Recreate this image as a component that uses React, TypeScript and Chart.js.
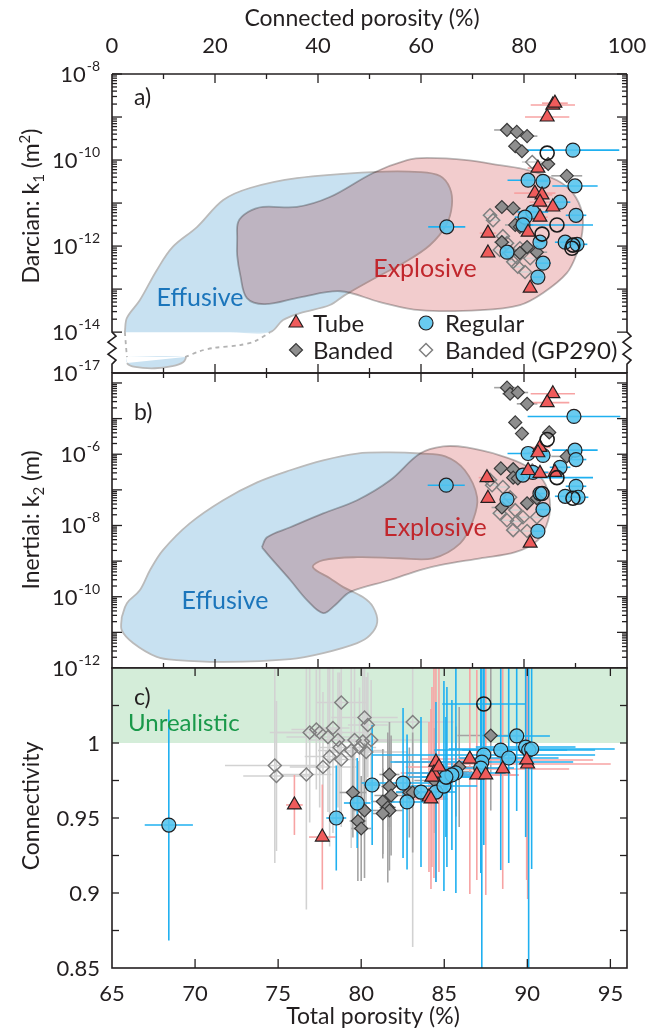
import React, { useEffect, useRef } from 'react';
import { Chart, registerables } from 'chart.js';

// Blend plugin must be registered before the Filler so that the fill is drawn in 'multiply' mode
const blendPlugin: any = {
  id: 'regionBlend',
  beforeDatasetDraw(chart: any, args: any) {
    const ds: any = chart.data.datasets[args.index];
    if (ds && ds.blend) {
      chart.ctx.save();
      chart.ctx.globalCompositeOperation = ds.blend;
    }
  },
  afterDatasetDraw(chart: any, args: any) {
    const ds: any = chart.data.datasets[args.index];
    if (ds && ds.blend) chart.ctx.restore();
  },
};
Chart.register(blendPlugin);
Chart.register(...registerables);

// ---------------- DATA ----------------
// Panel a: connected porosity (%) vs Darcian permeability k1 (m^2)
const tubeA_x = [85.6, 86.0, 84.5, 82.7, 82.1, 83.5, 83.1, 83.1, 85.6, 73.0, 73.0, 81.2, 80.8];
const tubeA_k = [1.9e-9, 2.1e-9, 1.0e-9, 6.5e-11, 1.7e-11, 1.55e-11, 1.05e-11, 4.7e-12, 8.1e-12, 2.0e-12, 6.9e-13, 1.05e-13, 2.1e-12];
const tubeA_xerr = [4.3, 2.5, 4.3, 2.0, 4.0, 2.0, 2.0, 1.5, 2.0, 1.6, 1.0, 1.0, 1.0];

const bandA_x = [76.7, 78.6, 80.6, 78.3, 79.6, 84.7, 88.3, 75.7, 77.9, 78.3, 79.2, 75.7, 82.5, 80.6, 79.2];
const bandA_k = [5.0e-10, 4.5e-10, 3.6e-10, 2.1e-10, 1.6e-10, 8.1e-11, 4.3e-11, 8.1e-12, 7.5e-12, 3.1e-12, 2.8e-12, 1.23e-12, 7.2e-13, 9.5e-13, 6.9e-13];
const bandA_xerr = [2.5, 1.5, 2.0, 1.0, 1.0, 1.0, 3.0, 1.0, 1.5, 2.0, 1.0, 1.5, 2.0, 1.0, 1.0];

const gpA_x = [81.6, 73.4, 74.0, 75.3, 77.3, 77.9, 78.8, 80.2, 76.7, 79.2, 81.2, 78.6, 75.9];
const gpA_k = [9e-11, 5.2e-12, 4e-12, 8.1e-13, 6.9e-13, 4.3e-13, 3.3e-13, 2.5e-13, 1.17e-12, 8.9e-13, 5.2e-13, 5.5e-13, 1.7e-12];
const gpA_xerr = [2.0, 1.5, 1.5, 1.0, 1.0, 1.0, 1.5, 1.0, 1.5, 1.0, 1.0, 1.0, 1.0];

const regA_x = [89.5, 80.8, 83.7, 89.9, 87.0, 81.7, 80.2, 79.8, 90.1, 65.0, 83.1, 88.0, 90.3, 76.7, 83.7, 82.7];
const regA_k = [1.7e-10, 3.4e-11, 3.2e-11, 2.5e-11, 1.05e-11, 6.2e-12, 4.7e-12, 3.1e-12, 5.2e-12, 2.8e-12, 1.23e-12, 1.23e-12, 1.1e-12, 7.2e-13, 4.0e-13, 1.9e-13];
const regA_xerr = [9.0, 4.0, 1.0, 4.4, 2.0, 3.0, 2.0, 2.0, 2.0, 3.6, 1.0, 2.0, 2.0, 1.0, 1.5, 1.0];

const holA_x = [84.5, 86.4, 83.5, 89.5, 89.3];
const holA_k = [1.45e-10, 3.1e-12, 1.9e-12, 1.05e-12, 8.9e-13];
const holA_xerr = [0, 7.0, 0, 0, 0];

// Panel a fields: [connected porosity %, log10 k1]
const effusiveA = [[2.5, -14.0], [2.9, -13.67], [5.4, -13.26], [8.7, -12.56], [11.8, -12.02], [16.5, -11.56], [21.6, -10.93], [26.8, -10.65], [35.9, -10.42], [50.7, -10.28], [59.8, -10.28], [63.7, -10.37], [65.6, -10.65], [66.0, -11.05], [64.9, -11.51], [61.7, -11.98], [56.9, -12.37], [51.1, -12.74], [45.2, -13.14], [42.3, -13.37], [36.5, -13.56], [33.2, -13.72], [30.7, -14.0], [22.9, -14.0], [13.2, -14.0], [5.4, -14.0], [2.5, -14.0]];
const effusiveA_open = [22, 23, 24, 25];
const effusiveA_low = [[2.9, -14.58], [14.2, -14.58], [13.8, -14.70], [11.7, -14.79], [8.3, -14.84], [4.5, -14.81], [2.9, -14.72], [2.9, -14.58]];
const effusiveA_low_open = [0, 6];
const dashA_left = [[2.5, -14.0], [2.7, -14.3], [2.9, -14.58]];
const dashA_right = [[14.2, -14.58], [17.1, -14.44], [19.6, -14.37], [24.9, -14.30], [27.8, -14.21], [30.7, -14.0]];
const explosiveA = [[24.3, -11.86], [24.5, -11.44], [26.4, -11.21], [29.3, -11.09], [35.9, -11.09], [42.3, -10.86], [50.7, -10.30], [57.3, -10.0], [61.2, -9.95], [68.9, -10.0], [75.3, -10.12], [80.6, -10.23], [86.4, -10.47], [89.5, -10.77], [91.3, -11.23], [91.3, -11.70], [90.3, -12.16], [88.3, -12.63], [83.7, -13.09], [79.2, -13.37], [71.5, -13.49], [59.8, -13.49], [52.0, -13.30], [44.3, -13.05], [36.5, -13.19], [29.7, -13.35], [26.2, -13.21], [24.9, -12.67], [24.3, -12.21], [24.3, -11.86]];

// Panel b: connected porosity (%) vs inertial permeability k2 (m)
const tubeB_x = [85.6, 84.5, 83.1, 82.7, 72.8, 73.0, 83.1, 86.0, 81.2, 80.8];
const tubeB_k = [5.0e-5, 2.8e-5, 1.55e-6, 1.1e-6, 2.2e-7, 5.8e-8, 2.9e-7, 3.1e-7, 3.2e-9, 3.5e-7];
const tubeB_xerr = [4.3, 4.3, 2.0, 2.0, 1.6, 1.0, 2.0, 2.0, 1.0, 1.0];

const bandB_x = [76.7, 77.3, 78.8, 80.6, 78.3, 79.6, 84.9, 88.3, 75.5, 77.9, 77.9, 78.8, 75.7, 80.6, 82.5];
const bandB_k = [7.4e-5, 5.0e-5, 5.4e-5, 2.6e-5, 7.8e-6, 3.8e-6, 4.1e-6, 8.7e-7, 4.0e-7, 3.8e-7, 2.2e-7, 2.1e-7, 3.2e-8, 4.2e-8, 5.8e-8];
const bandB_xerr = [2.5, 1.5, 2.0, 2.0, 1.0, 1.0, 1.0, 3.0, 1.0, 1.5, 1.0, 1.0, 2.0, 1.0, 1.0];

const gpB_x = [73.4, 73.8, 75.9, 77.3, 78.3, 75.3, 76.7, 78.6, 79.8, 77.9, 80.6, 82.5, 81.6];
const gpB_k = [1.9e-7, 1.35e-7, 1.2e-7, 6.2e-8, 2.7e-8, 2.2e-8, 1.4e-8, 1.3e-8, 1.7e-8, 7.4e-9, 7.0e-9, 1.7e-8, 3.5e-7];
const gpB_xerr = [1.5, 1.0, 1.0, 1.0, 1.0, 1.5, 1.0, 1.0, 1.0, 1.0, 1.0, 1.0, 2.0];

const regB_x = [89.7, 80.8, 83.7, 89.9, 90.1, 87.0, 81.7, 79.8, 90.1, 64.9, 83.1, 88.0, 76.7, 83.7, 82.7, 90.5];
const regB_k = [1.15e-5, 1.05e-6, 9.3e-7, 1.3e-6, 7.1e-7, 4.3e-7, 3.1e-7, 2.6e-7, 1.26e-7, 1.35e-7, 7.9e-8, 6.6e-8, 5.4e-8, 2.8e-8, 6.9e-9, 6.2e-8];
const regB_xerr = [9.0, 4.0, 1.0, 4.4, 2.0, 2.0, 3.0, 2.0, 2.0, 3.6, 1.0, 2.0, 1.0, 1.5, 1.0, 2.0];

const holB_x = [84.5, 86.4, 83.5, 89.5];
const holB_k = [2.6e-6, 2.2e-7, 7.9e-8, 5.8e-8];
const holB_xerr = [0, 7.0, 0, 0];

// Panel b fields: [connected porosity %, log10 k2]
const effusiveB = [[1.9, -10.57], [2.9, -10.18], [5.4, -9.82], [7.4, -9.25], [9.9, -8.69], [15.1, -7.94], [21.6, -7.29], [28.2, -6.79], [34.6, -6.45], [41.0, -6.17], [47.6, -5.98], [54.0, -5.95], [59.8, -5.98], [64.7, -6.06], [68.5, -6.45], [70.9, -7.21], [70.1, -7.85], [67.6, -8.50], [62.3, -8.92], [55.9, -8.92], [47.6, -8.89], [41.0, -8.97], [39.0, -9.17], [42.3, -9.48], [44.9, -9.73], [48.7, -10.01], [50.7, -10.29], [51.5, -10.71], [50.1, -11.08], [47.6, -11.30], [41.0, -11.58], [34.6, -11.75], [21.6, -11.83], [12.6, -11.78], [8.7, -11.69], [4.1, -11.30], [1.9, -10.94], [1.9, -10.57]];
const explosiveB = [[29.1, -8.61], [30.1, -8.33], [34.6, -8.05], [41.0, -7.66], [47.6, -7.29], [54.0, -6.73], [59.8, -5.98], [64.3, -5.78], [68.9, -5.81], [75.3, -6.03], [80.2, -6.31], [83.7, -6.73], [85.0, -7.29], [84.7, -7.85], [82.7, -8.41], [78.3, -8.75], [71.5, -8.92], [63.7, -9.11], [59.8, -9.25], [54.0, -9.53], [46.2, -9.87], [43.3, -10.24], [41.0, -10.46], [37.9, -10.10], [34.6, -9.53], [30.7, -8.89], [29.1, -8.61]];

// Panel c: total porosity (%) vs connectivity
const tubeC_x = [75.98, 77.66, 84.08, 84.2, 84.5, 84.38, 84.26, 86.54, 86.96, 87.5, 88.52, 90.02, 89.96, 84.68];
const tubeC_y = [0.9587, 0.9373, 0.964, 0.9627, 0.9873, 0.98, 0.9773, 0.9893, 0.9787, 0.9787, 0.9827, 0.986, 0.9887, 0.984];
const tubeC_xerr = [0.5, 0.8, 1.0, 1.0, 2.5, 2.0, 1.5, 3.0, 2.5, 2.0, 4.0, 5.0, 4.0, 2.0];
const tubeC_yerr = [0.02, 0.035, 0.05, 0.06, 0.08, 0.07, 0.06, 0.09, 0.07, 0.08, 0.08, 0.09, 0.08, 0.07];

const regC_x = [68.42, 78.5, 79.76, 80.66, 82.52, 82.76, 83.6, 84.5, 84.98, 85.16, 85.7, 87.38, 87.26, 87.2, 88.4, 88.88, 89.36, 89.9, 90.08, 90.26, 85.46, 85.1];
const regC_y = [0.9453, 0.95, 0.96, 0.972, 0.9733, 0.9607, 0.9673, 0.9673, 0.9713, 0.9773, 0.98, 0.992, 0.9873, 0.9833, 0.9953, 0.99, 1.0047, 0.9973, 0.9953, 0.996, 0.9787, 0.9773];
const regC_xerr = [1.45, 0.6, 0.8, 0.5, 2.5, 1.0, 1.5, 1.2, 2.0, 2.5, 3.0, 6.7, 5.5, 2.0, 4.0, 3.0, 2.0, 3.0, 4.0, 5.0, 1.5, 1.5];
const regC_yerr = [0.077, 0.035, 0.03, 0.04, 0.05, 0.045, 0.05, 0.06, 0.07, 0.06, 0.08, 0.06, 0.14, 0.07, 0.08, 0.07, 0.05, 0.06, 0.15, 0.08, 0.05, 0.04];

const bandC_x = [79.5, 81.7, 81.7, 81.8, 81.3, 81.6, 81.7, 81.3, 80.2, 79.8, 80.0, 82.9, 83.1, 84.4, 85.9, 85.7, 87.8];
const bandC_y = [0.967, 0.979, 0.971, 0.965, 0.961, 0.957, 0.955, 0.953, 0.955, 0.948, 0.943, 0.967, 0.967, 0.975, 0.984, 0.981, 1.005];
const bandC_xerr = [0.8, 0.6, 0.5, 1.0, 0.7, 0.5, 0.8, 0.6, 0.7, 0.5, 0.6, 0.8, 1.0, 1.2, 1.5, 1.0, 2.0];
const bandC_yerr = [0.03, 0.035, 0.03, 0.04, 0.035, 0.05, 0.04, 0.03, 0.045, 0.04, 0.035, 0.03, 0.04, 0.035, 0.04, 0.03, 0.05];

const gpC_x = [78.8, 80.2, 80.4, 83.1, 76.9, 77.3, 77.5, 78.3, 78.0, 78.6, 79.6, 80.1, 80.6, 78.7, 79.4, 79.9, 80.3, 78.1, 78.8, 77.7, 76.7, 74.8, 74.9];
const gpC_y = [1.027, 1.017, 1.012, 1.014, 1.007, 1.009, 1.007, 1.010, 1.004, 1.002, 1.002, 1.001, 1.002, 0.997, 0.995, 0.997, 0.994, 0.991, 0.989, 0.984, 0.979, 0.985, 0.978];
const gpC_xerr = [1.5, 2.0, 1.2, 2.5, 2.0, 1.5, 3.0, 1.0, 2.5, 1.8, 2.2, 1.5, 3.0, 1.2, 2.0, 1.0, 2.5, 1.5, 1.0, 2.0, 1.5, 3.0, 2.0];
const gpC_yerr = [0.04, 0.05, 0.035, 0.15, 0.06, 0.04, 0.05, 0.07, 0.05, 0.045, 0.06, 0.055, 0.04, 0.05, 0.065, 0.04, 0.05, 0.06, 0.045, 0.05, 0.09, 0.065, 0.05];

const holC_x = [87.38];
const holC_y = [1.026];
const holC_xerr = [2.5];
const holC_yerr = [0.03];

// Axes / ticks
const connMajor = [0, 20, 40, 60, 80, 100];
const connMinor = [10, 30, 50, 70, 90];
const totTicks = [65, 70, 75, 80, 85, 90, 95];
const aExpLabels = [-8, -10, -12, -14];
const bExpLabels = [-6, -8, -10, -12];
const cYLabels = [0.85, 0.9, 0.95, 1];
const cYTicks = [0.875, 0.9, 0.925, 0.95, 0.975, 1.0, 1.025];

// ---------------- STYLE ----------------
const FONT = 'Lato, "Open Sans", "DejaVu Sans", sans-serif';
const AX = '#231f20';
const W = 659, H = 1032;
const TUBE = { ps: 'triangle', r: 8, bg: '#ef5b5b', bd: '#231f20', bw: 1.2, err: '#f7a3a3', order: 3, errOrder: 3 };
const REG = { ps: 'circle', r: 7, bg: 'rgba(84,196,238,0.88)', bd: '#231f20', bw: 1.2, err: '#1fb0f0', order: 4, errOrder: 4 };
const BAND = { ps: 'rectRot', r: 6.5, bg: '#8e8e8e', bd: '#3a3a3a', bw: 1.2, err: '#a3a3a3', order: 5, errOrder: 2 };
const GP = { ps: 'rectRot', r: 6.5, bg: 'rgba(255,255,255,0)', bd: '#7f7f7f', bw: 1.5, err: '#d2d2d2', order: 6, errOrder: 1 };
const HOL = { ps: 'circle', r: 7, bg: 'rgba(255,255,255,0)', bd: '#1a1a1a', bw: 1.6, err: '#1fb0f0', order: 2, errOrder: 5 };
const BLUE_FILL = '#c8e1f1';
const RED_FILL = '#f2cccd';
const EDGE = '#bababa';

// ---------------- HELPERS ----------------
const fnt = (s: number) => `${s}px ${FONT}`;
function seg(ctx: any, x1: number, y1: number, x2: number, y2: number) {
  ctx.beginPath(); ctx.moveTo(x1, y1); ctx.lineTo(x2, y2); ctx.stroke();
}
function txt(ctx: any, s: string, x: number, cy: number, size: number, color = AX, align = 'left') {
  ctx.font = fnt(size); ctx.fillStyle = color; ctx.textAlign = align; ctx.textBaseline = 'alphabetic';
  ctx.fillText(s, x, cy + size * 0.36);
}
function pow10(ctx: any, exp: string, xRight: number, cy: number) {
  ctx.font = fnt(22); const w1 = ctx.measureText('10').width;
  ctx.font = fnt(14); const w2 = ctx.measureText(exp).width;
  const x0 = xRight - w1 - w2 - 1;
  txt(ctx, '10', x0, cy, 22, AX, 'left');
  ctx.font = fnt(14); ctx.fillStyle = AX; ctx.textAlign = 'left';
  ctx.fillText(exp, x0 + w1 + 1, cy - 3);
}
function rich(ctx: any, parts: any[], cx: number, cy: number) {
  ctx.save(); ctx.translate(cx, cy); ctx.rotate(-Math.PI / 2);
  let total = 0;
  parts.forEach((p) => { ctx.font = fnt(p.s); total += ctx.measureText(p.t).width; });
  let x = -total / 2;
  ctx.fillStyle = AX; ctx.textAlign = 'left'; ctx.textBaseline = 'alphabetic';
  parts.forEach((p) => { ctx.font = fnt(p.s); ctx.fillText(p.t, x, 8.5 + (p.dy || 0)); x += ctx.measureText(p.t).width; });
  ctx.restore();
}
function logTicks(ctx: any, ys: any, left: number, right: number, e0: number, e1: number, maxExp: number, yLimit: number, top: number) {
  for (let e = e0; e <= e1; e++) {
    for (let m = 1; m <= 9; m++) {
      const v = m * Math.pow(10, e);
      if (Math.log10(v) > maxExp + 1e-9) break;
      const py = ys.getPixelForValue(v);
      if (py > yLimit + 0.5 || py < top - 0.5) continue;
      const len = m === 1 ? 10 : 5;
      seg(ctx, left, py, left + len, py); seg(ctx, right - len, py, right, py);
    }
  }
}
function connTicks(ctx: any, xs: any, top: number, bottom: number, doTop: boolean, doBottom: boolean) {
  connMajor.concat(connMinor).forEach((v) => {
    if (v <= 0 || v >= 100) return;
    const px = xs.getPixelForValue(v);
    const len = connMajor.indexOf(v) >= 0 ? 9 : 5;
    if (doTop) seg(ctx, px, top, px, top + len);
    if (doBottom) seg(ctx, px, bottom, px, bottom - len);
  });
}
function drawMarker(ctx: any, st: any, x: number, y: number) {
  ctx.save(); ctx.beginPath();
  const r = st.r;
  if (st.ps === 'triangle') {
    ctx.moveTo(x, y - r); ctx.lineTo(x + r * Math.sin(2 * Math.PI / 3), y + r * 0.5); ctx.lineTo(x - r * Math.sin(2 * Math.PI / 3), y + r * 0.5); ctx.closePath();
  } else if (st.ps === 'circle') {
    ctx.arc(x, y, r, 0, Math.PI * 2);
  } else {
    ctx.moveTo(x - r, y); ctx.lineTo(x, y - r); ctx.lineTo(x + r, y); ctx.lineTo(x, y + r); ctx.closePath();
  }
  ctx.fillStyle = st.bg; ctx.fill(); ctx.lineWidth = st.bw; ctx.strokeStyle = st.bd; ctx.stroke();
  ctx.restore();
}

const toPts = (xs: number[], ys: number[]) => xs.map((x, i) => ({ x, y: ys[i] }));
const expPts = (arr: number[][]) => arr.map(([x, e]) => ({ x, y: Math.pow(10, e) }));

function regionDs(data: any[], fill: string, order: number, open: number[] = [], blend: any = null) {
  return {
    type: 'line', data, showLine: true, fill: 'shape', backgroundColor: fill, borderColor: EDGE, borderWidth: 1.8,
    pointRadius: 0, pointHoverRadius: 0, tension: 0.35, order, blend,
    segment: { borderColor: (c: any) => (open.indexOf(c.p0DataIndex) >= 0 ? 'rgba(0,0,0,0)' : undefined) },
  };
}
function dashDs(data: any[]) {
  return {
    type: 'line', data, showLine: true, fill: false, borderColor: '#b3b3b3', borderWidth: 1.8, borderDash: [4, 4],
    pointRadius: 0, tension: 0.3, order: 99,
  };
}
function markerDs(xs: number[], ys: number[], st: any, xErr?: number[], yErr?: number[]) {
  return {
    type: 'scatter', data: toPts(xs, ys), marker: true, xErr, yErr, errColor: st.err, errOrder: st.errOrder,
    pointStyle: st.ps, pointRadius: st.r, pointHoverRadius: st.r, backgroundColor: st.bg, borderColor: st.bd,
    pointBackgroundColor: st.bg, pointBorderColor: st.bd, pointBorderWidth: st.bw, order: st.order, showLine: false,
  };
}

const errPlugin: any = {
  id: 'errBars',
  beforeDraw(chart: any) { chart.$errDone = false; },
  beforeDatasetDraw(chart: any, args: any) {
    const ds: any = chart.data.datasets[args.index];
    if (chart.$errDone || !ds.marker) return;
    chart.$errDone = true;
    const ctx = chart.ctx; const { left, right, top, bottom } = chart.chartArea;
    const xs = chart.scales.x, ys = chart.scales.y;
    ctx.save(); ctx.beginPath(); ctx.rect(left, top, right - left, bottom - top); ctx.clip();
    ctx.lineWidth = 1.6;
    const list = chart.data.datasets.filter((d: any) => d.marker).sort((a: any, b: any) => a.errOrder - b.errOrder);
    list.forEach((d: any) => {
      ctx.strokeStyle = d.errColor;
      d.data.forEach((p: any, i: number) => {
        const px = xs.getPixelForValue(p.x), py = ys.getPixelForValue(p.y);
        const xe = d.xErr ? d.xErr[i] : 0;
        if (xe) seg(ctx, xs.getPixelForValue(p.x - xe), py, xs.getPixelForValue(p.x + xe), py);
        const ye = d.yErr ? d.yErr[i] : 0;
        if (ye) seg(ctx, px, ys.getPixelForValue(p.y - ye), px, ys.getPixelForValue(p.y + ye));
      });
    });
    ctx.restore();
  },
};

function baseConfig(datasets: any[], padding: any, scales: any, deco: any) {
  return {
    type: 'scatter',
    data: { datasets },
    options: {
      responsive: false, animation: false, events: [],
      layout: { padding },
      scales,
      plugins: { legend: { display: false }, tooltip: { enabled: false } },
    },
    plugins: [errPlugin, deco],
  } as any;
}

// ---------------- PANEL A ----------------
const decoA: any = {
  id: 'decoA',
  afterDraw(chart: any) {
    const ctx = chart.ctx; const { left, right, top, bottom } = chart.chartArea;
    const xs = chart.scales.x, ys = chart.scales.y;
    const yb = ys.getPixelForValue(1e-14);
    ctx.save();
    ctx.strokeStyle = AX; ctx.lineWidth = 1.6;
    seg(ctx, left, top, right, top); seg(ctx, left, bottom, right, bottom);
    [left, right].forEach((x) => {
      ctx.beginPath(); ctx.moveTo(x, top); ctx.lineTo(x, yb);
      [[4, 4], [-4, 10], [4, 16], [-4, 22], [4, 28], [0, 32]].forEach(([dx, dy]) => ctx.lineTo(x + dx, yb + dy));
      ctx.lineTo(x, bottom); ctx.stroke();
    });
    ctx.lineWidth = 1.3;
    connTicks(ctx, xs, top, bottom, true, true);
    logTicks(ctx, ys, left, right, -14, -8, -8, yb, top);
    aExpLabels.forEach((e) => pow10(ctx, String(e), left - 12, ys.getPixelForValue(Math.pow(10, e))));
    pow10(ctx, '-17', left - 12, bottom);
    connMajor.forEach((v) => txt(ctx, String(v), xs.getPixelForValue(v), 45, 22, AX, 'center'));
    txt(ctx, 'Connected porosity (%)', 362, 18, 23, AX, 'center');
    rich(ctx, [{ t: 'Darcian: k', s: 23 }, { t: '1', s: 15, dy: 5 }, { t: ' (m', s: 23 }, { t: '2', s: 15, dy: -9 }, { t: ')', s: 23 }], 30, 206);
    txt(ctx, 'a)', 134, 97, 23);
    txt(ctx, 'Effusive', 200, 297, 25, '#1b75bb', 'center');
    txt(ctx, 'Explosive', 425, 268, 25, '#c1272d', 'center');
    // legend
    drawMarker(ctx, TUBE, 296, 323); txt(ctx, 'Tube', 313, 323, 24);
    drawMarker(ctx, REG, 426, 323); txt(ctx, 'Regular', 445, 323, 24);
    drawMarker(ctx, BAND, 296, 350); txt(ctx, 'Banded', 313, 350, 24);
    drawMarker(ctx, { ...GP, bg: '#ffffff' }, 426, 350); txt(ctx, 'Banded (GP290)', 445, 350, 24);
    ctx.restore();
  },
};

function buildA(canvas: any) {
  const datasets = [
    regionDs(expPts(effusiveA), BLUE_FILL, 102, effusiveA_open),
    regionDs(expPts(effusiveA_low), BLUE_FILL, 102, effusiveA_low_open),
    dashDs(expPts(dashA_left)),
    dashDs(expPts(dashA_right)),
    regionDs(expPts(explosiveA), RED_FILL, 101, [], 'multiply'),
    markerDs(gpA_x, gpA_k, GP, gpA_xerr),
    markerDs(bandA_x, bandA_k, BAND, bandA_xerr),
    markerDs(regA_x, regA_k, REG, regA_xerr),
    markerDs(tubeA_x, tubeA_k, TUBE, tubeA_xerr),
    markerDs(holA_x, holA_k, HOL, holA_xerr),
  ];
  const scales = {
    x: { type: 'linear', min: 0, max: 100, display: false },
    y: { type: 'logarithmic', min: Math.pow(10, -14.95), max: 1e-8, display: false },
  };
  return new Chart(canvas, baseConfig(datasets, { left: 112, right: 32, top: 74, bottom: H - 373 }, scales, decoA));
}

// ---------------- PANEL B ----------------
const B_MAX_EXP = -3.72;
const decoB: any = {
  id: 'decoB',
  afterDraw(chart: any) {
    const ctx = chart.ctx; const { left, right, top, bottom } = chart.chartArea;
    const xs = chart.scales.x, ys = chart.scales.y;
    ctx.save();
    ctx.strokeStyle = AX; ctx.lineWidth = 1.6;
    ctx.strokeRect(left, top, right - left, bottom - top);
    ctx.lineWidth = 1.3;
    connTicks(ctx, xs, top, bottom, true, true);
    logTicks(ctx, ys, left, right, -12, -4, B_MAX_EXP, bottom, top);
    bExpLabels.forEach((e) => pow10(ctx, String(e), left - 12, ys.getPixelForValue(Math.pow(10, e))));
    rich(ctx, [{ t: 'Inertial: k', s: 23 }, { t: '2', s: 15, dy: 5 }, { t: ' (m)', s: 23 }], 30, 520);
    txt(ctx, 'b)', 134, 412, 23);
    txt(ctx, 'Effusive', 225, 600, 25, '#1b75bb', 'center');
    txt(ctx, 'Explosive', 435, 527, 25, '#c1272d', 'center');
    ctx.restore();
  },
};

function buildB(canvas: any) {
  const datasets = [
    regionDs(expPts(effusiveB), BLUE_FILL, 102),
    regionDs(expPts(explosiveB), RED_FILL, 101, [], 'multiply'),
    markerDs(gpB_x, gpB_k, GP, gpB_xerr),
    markerDs(bandB_x, bandB_k, BAND, bandB_xerr),
    markerDs(regB_x, regB_k, REG, regB_xerr),
    markerDs(tubeB_x, tubeB_k, TUBE, tubeB_xerr),
    markerDs(holB_x, holB_k, HOL, holB_xerr),
  ];
  const scales = {
    x: { type: 'linear', min: 0, max: 100, display: false },
    y: { type: 'logarithmic', min: 1e-12, max: Math.pow(10, B_MAX_EXP), display: false },
  };
  return new Chart(canvas, baseConfig(datasets, { left: 112, right: 32, top: 373, bottom: H - 668 }, scales, decoB));
}

// ---------------- PANEL C ----------------
const decoC: any = {
  id: 'decoC',
  afterDraw(chart: any) {
    const ctx = chart.ctx; const { left, right, top, bottom } = chart.chartArea;
    const xs = chart.scales.x, ys = chart.scales.y;
    ctx.save();
    ctx.strokeStyle = AX; ctx.lineWidth = 1.6;
    ctx.strokeRect(left, top, right - left, bottom - top);
    ctx.lineWidth = 1.3;
    totTicks.forEach((v) => {
      const px = xs.getPixelForValue(v);
      if (px <= left + 1 || px >= right - 1) return;
      seg(ctx, px, top, px, top + 8); seg(ctx, px, bottom, px, bottom - 9);
    });
    cYTicks.forEach((v) => {
      const py = ys.getPixelForValue(v);
      seg(ctx, left, py, left + 7, py); seg(ctx, right - 7, py, right, py);
    });
    cYLabels.forEach((v) => txt(ctx, String(v), left - 12, ys.getPixelForValue(v), 22, AX, 'right'));
    totTicks.forEach((v) => txt(ctx, String(v), xs.getPixelForValue(v), bottom + 25, 22, AX, 'center'));
    txt(ctx, 'Total porosity (%)', 373, 1016, 23, AX, 'center');
    rich(ctx, [{ t: 'Connectivity', s: 23 }], 30, 806);
    txt(ctx, 'c)', 134, 697, 23);
    txt(ctx, 'Unrealistic', 128, 722, 24, '#19994a');
    ctx.restore();
  },
};

function buildC(canvas: any) {
  const datasets = [
    { type: 'line', data: [{ x: 65, y: 1 }, { x: 96, y: 1 }], fill: 'end', backgroundColor: '#d4edd9', borderColor: 'rgba(0,0,0,0)', borderWidth: 0, pointRadius: 0, order: 100 },
    markerDs(gpC_x, gpC_y, GP, gpC_xerr, gpC_yerr),
    markerDs(bandC_x, bandC_y, BAND, bandC_xerr, bandC_yerr),
    markerDs(regC_x, regC_y, REG, regC_xerr, regC_yerr),
    markerDs(tubeC_x, tubeC_y, TUBE, tubeC_xerr, tubeC_yerr),
    markerDs(holC_x, holC_y, HOL, holC_xerr, holC_yerr),
  ];
  const scales = {
    x: { type: 'linear', min: 65, max: 96, display: false },
    y: { type: 'linear', min: 0.85, max: 1.05, display: false },
  };
  return new Chart(canvas, baseConfig(datasets, { left: 112, right: 32, top: 668, bottom: H - 968 }, scales, decoC));
}

export default function App() {
  const refA = useRef<HTMLCanvasElement>(null);
  const refB = useRef<HTMLCanvasElement>(null);
  const refC = useRef<HTMLCanvasElement>(null);
  useEffect(() => {
    const charts = [buildA(refA.current), buildB(refB.current), buildC(refC.current)];
    return () => charts.forEach((c) => c.destroy());
  }, []);
  const st: any = { position: 'absolute', left: 0, top: 0, width: W, height: H };
  return (
    <div style={{ position: 'absolute', left: 0, top: 0, width: W, height: H, background: '#ffffff' }}>
      <canvas ref={refA} width={W} height={H} style={st} />
      <canvas ref={refB} width={W} height={H} style={st} />
      <canvas ref={refC} width={W} height={H} style={st} />
    </div>
  );
}
